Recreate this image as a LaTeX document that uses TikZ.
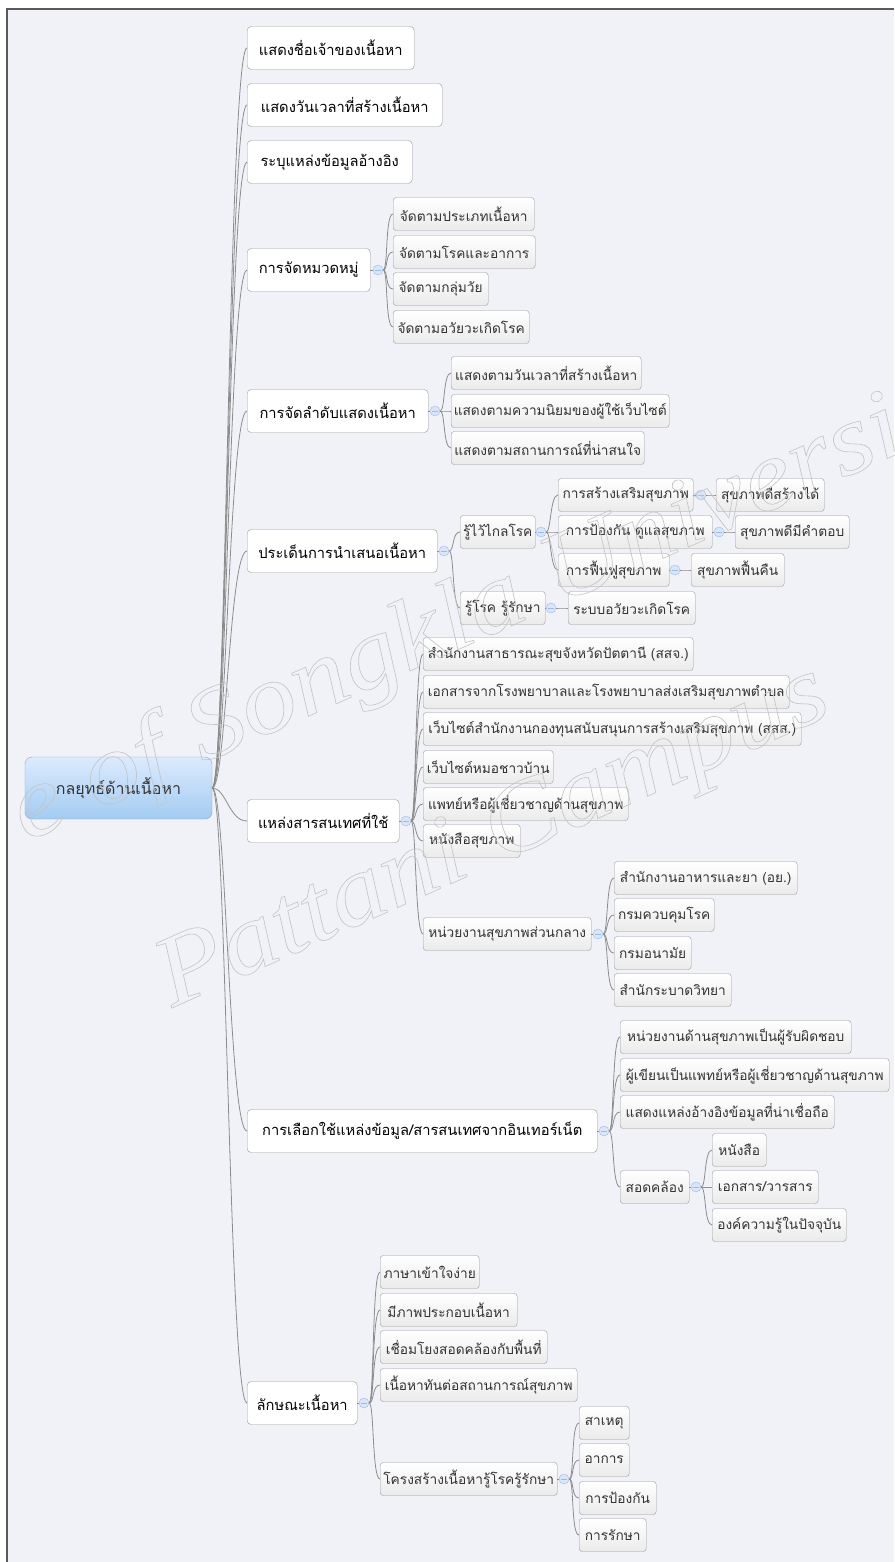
\documentclass[tikz,border=0pt]{standalone}
\usepackage{fontspec}
\setmainfont[Script=Thai]{Loma}
\newfontfamily\wmfont{Liberation Serif}
\usetikzlibrary{calc}
\definecolor{paper}{HTML}{F1F2F8}
\definecolor{frameline}{HTML}{5A5A5A}
\definecolor{linkgray}{HTML}{8C8C8C}
\definecolor{boxline}{HTML}{9A9A9A}
\definecolor{roottop}{HTML}{DCEBFD}
\definecolor{rootbot}{HTML}{A3CBF3}
\definecolor{rootline}{HTML}{7FA6D3}
\definecolor{foldfill}{HTML}{D9E6F8}
\definecolor{foldline}{HTML}{9DBBE6}
\definecolor{wmline}{HTML}{C4C4C4}
\tikzset{link/.style={draw=linkgray,line width=0.8pt},
  rootbox/.style={draw=rootline,top color=roottop,bottom color=rootbot,rounded corners=7pt,minimum width=187pt,minimum height=62pt,font=\fontsize{16}{19}\selectfont,text=black!80},
  topic/.style={draw=boxline,fill=white,rounded corners=4pt,anchor=west,minimum height=43pt,inner xsep=2pt,font=\fontsize{14.7}{17}\selectfont,text=black},
  sub/.style={draw=boxline,top color=white,bottom color=black!8,rounded corners=3pt,anchor=west,minimum height=33pt,inner xsep=2pt,font=\fontsize{13.7}{16}\selectfont,text=black!80},
  fold/.style={circle,draw=foldline,fill=foldfill,minimum size=10pt,inner sep=0pt,path picture={\draw[foldline,line width=0.6pt] ([xshift=2pt]path picture bounding box.west) -- ([xshift=-2pt]path picture bounding box.east);}},
  wmark/.style={font=\wmfont\itshape\fontsize{100}{100}\selectfont,text=wmline,inner sep=0pt,anchor=base west,rotate=24,xscale=1.12}}
\newcommand{\outlined}[1]{\special{pdf:literal direct 1 Tr 0.6 w}#1\special{pdf:literal direct 0 Tr}}
\begin{document}
\begin{tikzpicture}[x=1pt,y=-1pt]
\useasboundingbox (0,0) rectangle (894,1562);
\fill[paper] (7,9) rectangle (894,1562);
\draw[frameline,line width=1.3pt] (7,1562) -- (7,9) -- (894,9);

\node (r0) [rootbox] at (118.5,788) {กลยุทธ์ด้านเนื้อหา};

\node (t1) [topic, minimum width=167pt] at (247,48) {แสดงชื่อเจ้าของเนื้อหา};
\node (t2) [topic, minimum width=195pt] at (247,105) {แสดงวันเวลาที่สร้างเนื้อหา};
\node (t3) [topic, minimum width=165pt] at (247,162) {ระบุแหล่งข้อมูลอ้างอิง};
\node (t4) [topic, minimum width=123pt] at (247,270) {การจัดหมวดหมู่};
\node (t5) [topic, minimum width=181pt] at (247,411) {การจัดลำดับแสดงเนื้อหา};
\node (t6) [topic, minimum width=190pt] at (247,551) {ประเด็นการนำเสนอเนื้อหา};
\node (t7) [topic, minimum width=152pt] at (247,821) {แหล่งสารสนเทศที่ใช้};
\node (t8) [topic, minimum width=350pt] at (247,1131) {การเลือกใช้แหล่งข้อมูล/สารสนเทศจากอินเทอร์เน็ต};
\node (t9) [topic, minimum width=110pt] at (247,1403) {ลักษณะเนื้อหา};

\node (f4) [fold] at (378,270) {};
\node (s41) [sub, minimum width=141pt] at (393,214) {จัดตามประเภทเนื้อหา};
\node (s42) [sub, minimum width=142pt] at (393,252) {จัดตามโรคและอาการ};
\node (s43) [sub, minimum width=95pt] at (393,289) {จัดตามกลุ่มวัย};
\node (s44) [sub, minimum width=136pt] at (393,327) {จัดตามอวัยวะเกิดโรค};

\node (f5) [fold] at (435,411) {};
\node (s51) [sub, minimum width=190pt] at (451,373) {แสดงตามวันเวลาที่สร้างเนื้อหา};
\node (s52) [sub, minimum width=218pt] at (451,411) {แสดงตามความนิยมของผู้ใช้เว็บไซต์};
\node (s53) [sub, minimum width=193pt] at (451,448) {แสดงตามสถานการณ์ที่น่าสนใจ};

\node (f6) [fold] at (444,551) {};
\node (s61) [sub, minimum width=75pt] at (460,532) {รู้ไว้ไกลโรค};
\node (s62) [sub, minimum width=85pt] at (460,608) {รู้โรค รู้รักษา};
\node (f61) [fold] at (541,532) {};
\node (s611) [sub, minimum width=135pt] at (558,495) {การสร้างเสริมสุขภาพ};
\node (s612) [sub, minimum width=154pt] at (558,532) {การป้องกัน ดูแลสุขภาพ};
\node (s613) [sub, minimum width=111pt] at (558,570) {การฟื้นฟูสุขภาพ};
\node (f611) [fold] at (701,495) {};
\node (s6111) [sub, minimum width=108pt] at (716,495) {สุขภาพดีสร้างได้};
\node (f612) [fold] at (719,532) {};
\node (s6121) [sub, minimum width=114pt] at (735,532) {สุขภาพดีมีคำตอบ};
\node (f613) [fold] at (675,570) {};
\node (s6131) [sub, minimum width=93pt] at (691,570) {สุขภาพฟื้นคืน};
\node (f62) [fold] at (551,608) {};
\node (s621) [sub, minimum width=127pt] at (568,608) {ระบบอวัยวะเกิดโรค};

\node (f7) [fold] at (406,821) {};
\node (s71) [sub, minimum width=270pt] at (423,654) {สำนักงานสาธารณะสุขจังหวัดปัตตานี (สสจ.)};
\node (s72) [sub, minimum width=366pt] at (423,692) {เอกสารจากโรงพยาบาลและโรงพยาบาลส่งเสริมสุขภาพตำบล};
\node (s73) [sub, minimum width=378pt] at (423,729) {เว็บไซต์สำนักงานกองทุนสนับสนุนการสร้างเสริมสุขภาพ (สสส.)};
\node (s74) [sub, minimum width=130pt] at (423,767) {เว็บไซต์หมอชาวบ้าน};
\node (s75) [sub, minimum width=205pt] at (423,804) {แพทย์หรือผู้เชี่ยวชาญด้านสุขภาพ};
\node (s76) [sub, minimum width=97pt] at (423,841) {หนังสือสุขภาพ};
\node (s77) [sub, minimum width=168pt] at (423,934) {หน่วยงานสุขภาพส่วนกลาง};
\node (f77) [fold] at (598,934) {};
\node (s771) [sub, minimum width=183pt] at (614,878) {สำนักงานอาหารและยา (อย.)};
\node (s772) [sub, minimum width=100pt] at (614,915) {กรมควบคุมโรค};
\node (s773) [sub, minimum width=77pt] at (614,953) {กรมอนามัย};
\node (s774) [sub, minimum width=117pt] at (614,990) {สำนักระบาดวิทยา};

\node (f8) [fold] at (604,1131) {};
\node (s81) [sub, minimum width=231pt] at (620,1037) {หน่วยงานด้านสุขภาพเป็นผู้รับผิดชอบ};
\node (s82) [sub, minimum width=269pt] at (620,1075) {ผู้เขียนเป็นแพทย์หรือผู้เชี่ยวชาญด้านสุขภาพ};
\node (s83) [sub, minimum width=214pt] at (620,1112) {แสดงแหล่งอ้างอิงข้อมูลที่น่าเชื่อถือ};
\node (s84) [sub, minimum width=69pt] at (620,1187) {สอดคล้อง};
\node (f84) [fold] at (696,1187) {};
\node (s841) [sub, minimum width=54pt] at (712,1150) {หนังสือ};
\node (s842) [sub, minimum width=106pt] at (712,1187) {เอกสาร/วารสาร};
\node (s843) [sub, minimum width=134pt] at (712,1225) {องค์ความรู้ในปัจจุบัน};

\node (f9) [fold] at (364,1403) {};
\node (s91) [sub, minimum width=99pt] at (380,1272) {ภาษาเข้าใจง่าย};
\node (s92) [sub, minimum width=137pt] at (380,1310) {มีภาพประกอบเนื้อหา};
\node (s93) [sub, minimum width=167pt] at (380,1347) {เชื่อมโยงสอดคล้องกับพื้นที่};
\node (s94) [sub, minimum width=197pt] at (380,1385) {เนื้อหาทันต่อสถานการณ์สุขภาพ};
\node (s95) [sub, minimum width=177pt] at (380,1479) {โครงสร้างเนื้อหารู้โรครู้รักษา};
\node (f95) [fold] at (564,1479) {};
\node (s951) [sub, minimum width=50pt] at (579,1423) {สาเหตุ};
\node (s952) [sub, minimum width=50pt] at (579,1460) {อาการ};
\node (s953) [sub, minimum width=77pt] at (579,1498) {การป้องกัน};
\node (s954) [sub, minimum width=67pt] at (579,1535) {การรักษา};

\foreach \c in {t1,t2,t3,t4,t5,t6,t7,t8,t9}
  \draw[link] (r0.east) .. controls +(14,0) and +(-18,0) .. (\c.west);
\foreach \p/\f in {t4/f4,t5/f5,t6/f6,t7/f7,t8/f8,t9/f9,s61/f61,s62/f62,s611/f611,s612/f612,s613/f613,s77/f77,s84/f84,s95/f95}
  \draw[link] (\p) -- (\f);
\foreach \f/\c in {f4/s41,f4/s42,f4/s43,f4/s44,f5/s51,f5/s52,f5/s53,f6/s61,f6/s62,f61/s611,f61/s612,f61/s613,
    f611/s6111,f612/s6121,f613/s6131,f62/s621,f7/s71,f7/s72,f7/s73,f7/s74,f7/s75,f7/s76,f7/s77,
    f77/s771,f77/s772,f77/s773,f77/s774,f8/s81,f8/s82,f8/s83,f8/s84,f84/s841,f84/s842,f84/s843,
    f9/s91,f9/s92,f9/s93,f9/s94,f9/s95,f95/s951,f95/s952,f95/s953,f95/s954}
  \draw[link] (\f.east) .. controls +(5,0) and +(-8,0) .. (\c.west);

\node (wm1) [wmark] at (26,842) {\outlined{e of Songkla University}};
\node (wm2) [wmark] at (172,1008) {\outlined{Pattani Campus}};
\end{tikzpicture}
\end{document}
